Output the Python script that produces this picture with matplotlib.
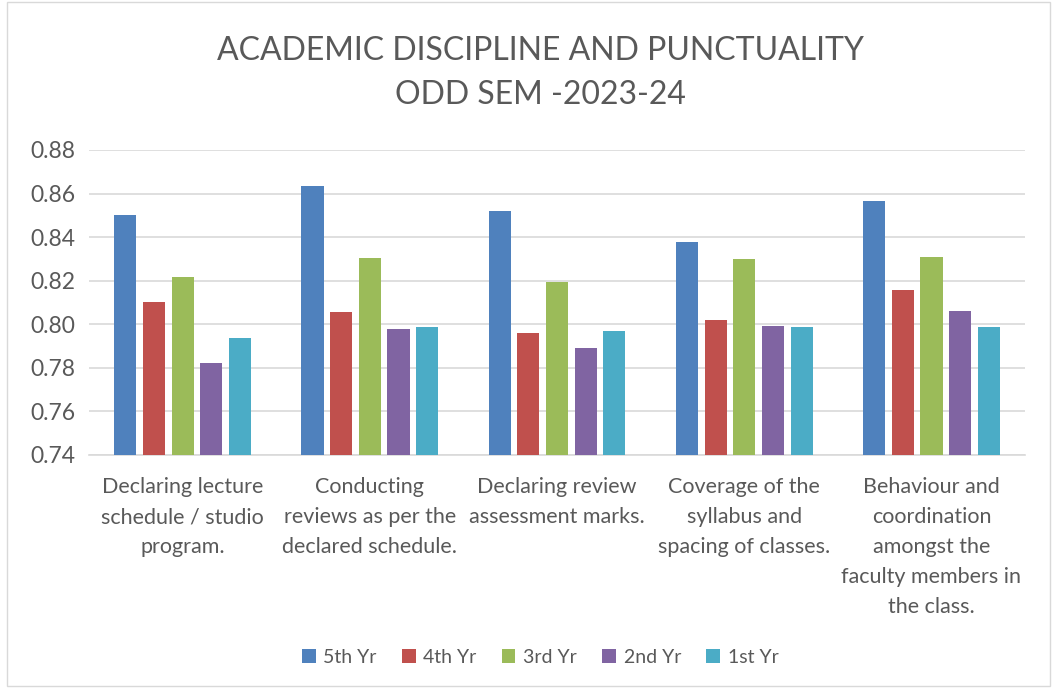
import matplotlib
matplotlib.use("Agg")
import matplotlib.pyplot as plt
import numpy as np
from matplotlib.patches import Rectangle

categories = [
    "Declaring lecture\nschedule / studio\nprogram.",
    "Conducting\nreviews as per the\ndeclared schedule.",
    "Declaring review\nassessment marks.",
    "Coverage of the\nsyllabus and\nspacing of classes.",
    "Behaviour and\ncoordination\namongst the\nfaculty members in\nthe class.",
]
series_names = ["5th Yr", "4th Yr", "3rd Yr", "2nd Yr", "1st Yr"]
yr5 = [0.850, 0.8636, 0.8518, 0.8377, 0.8564]
yr4 = [0.8103, 0.8055, 0.7959, 0.8019, 0.8158]
yr3 = [0.8218, 0.8302, 0.8195, 0.8301, 0.8308]
yr2 = [0.7824, 0.7976, 0.7893, 0.7991, 0.8059]
yr1 = [0.7939, 0.7987, 0.7971, 0.7987, 0.7987]
colors = ["#4F81BD", "#C0504D", "#9BBB59", "#8064A2", "#4BACC6"]

plt.rcParams['font.family'] = ['Lato', 'DejaVu Sans']
text_col = "#595959"

fig = plt.figure(figsize=(10.53, 6.88), dpi=100)
ax = fig.add_axes([0.0845, 0.3387, 0.889, 0.4433])

x = np.arange(len(categories))
pitch = 0.153
width = 0.118
for i, (vals, name) in enumerate(zip([yr5, yr4, yr3, yr2, yr1], series_names)):
    ax.bar(x + (i - 2) * pitch, np.array(vals) - 0.74, width, bottom=0.74,
           color=colors[i], label=name, zorder=3)

ax.set_xlim(-0.5, len(categories) - 0.5)
ax.set_ylim(0.74, 0.88)
ticks = np.arange(0.74, 0.8801, 0.02)
ax.set_yticks(ticks)
ax.set_yticklabels([f"{v:.2f}" for v in ticks], fontsize=16.5)
ax.set_xticks(x)
ax.set_xticklabels(categories, linespacing=1.62, fontsize=15.5)
ax.tick_params(axis='both', length=0, colors=text_col)
ax.tick_params(axis='x', pad=16)
ax.tick_params(axis='y', pad=10)
ax.grid(axis='y', color="#D9D9D9", linewidth=1.2, zorder=0)
for s in ['top', 'right', 'left']:
    ax.spines[s].set_visible(False)
ax.spines['bottom'].set_color("#D9D9D9")
ax.spines['bottom'].set_linewidth(1.2)

fig.text(0.513, 0.894, "ACADEMIC DISCIPLINE AND PUNCTUALITY\nODD SEM -2023-24",
         ha='center', va='center', fontsize=23, color=text_col, linespacing=1.6)

fig.legend(loc='center', bbox_to_anchor=(0.513, 0.045), ncol=5, frameon=False,
           fontsize=14, labelcolor=text_col, handlelength=0.7, handleheight=0.7,
           handletextpad=0.4, columnspacing=1.3)

fig.patches.append(Rectangle((0.007, 0.003), 0.99, 0.994, transform=fig.transFigure,
                             fill=False, edgecolor="#D9D9D9", linewidth=1))

fig.savefig("out.png", dpi=100)
